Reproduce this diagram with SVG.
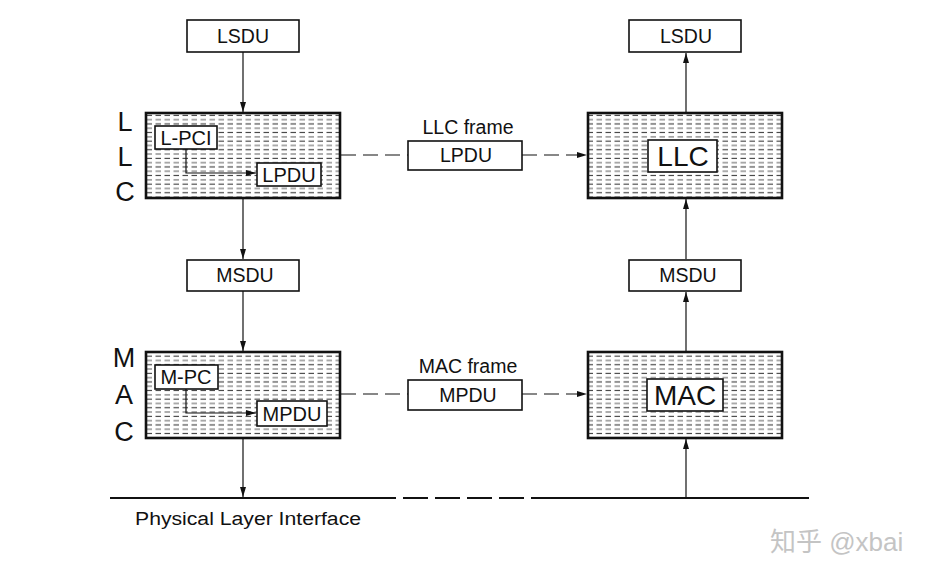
<svg xmlns="http://www.w3.org/2000/svg" width="938" height="580" viewBox="0 0 938 580">
<style>
text{font-family:"Liberation Sans",Arial,sans-serif;fill:#111}
.box{fill:#fff;stroke:#111;stroke-width:1.6}
.layer{fill:url(#hatch);stroke:#111;stroke-width:2.6}
.ln{stroke:#111;stroke-width:1.2;fill:none}
.phy{stroke:#111;stroke-width:2;fill:none}
.dash{stroke:#111;stroke-width:1.2;fill:none;stroke-dasharray:15 7}
.lbl{font-size:19.5px;text-anchor:middle}
.big{font-size:28px;text-anchor:middle}
.side{font-size:27px;text-anchor:middle}
</style>
<defs>
<pattern id="hatch" patternUnits="userSpaceOnUse" x="146" y="113" width="9" height="8.6">
<rect width="9" height="8.6" fill="#fff"/>
<rect x="0.5" y="1.8" width="5.5" height="1.1" fill="#3a3a3a"/>
<rect x="0.5" y="6.1" width="5.5" height="1.1" fill="#6a6a6a"/>
</pattern>
<marker id="arr" viewBox="0 0 10 6" refX="10" refY="3" markerWidth="10" markerHeight="6" markerUnits="userSpaceOnUse" orient="auto">
<path d="M0,0 L10,3 L0,6 Z" fill="#111"/>
</marker>
</defs>
<rect width="938" height="580" fill="#fff"/>

<g id="connectors">
<line class="ln" x1="243" y1="52" x2="243" y2="112" marker-end="url(#arr)"/>
<line class="ln" x1="243" y1="198" x2="243" y2="259" marker-end="url(#arr)"/>
<line class="ln" x1="243" y1="291" x2="243" y2="351" marker-end="url(#arr)"/>
<line class="ln" x1="243" y1="438" x2="243" y2="497" marker-end="url(#arr)"/>
<line class="ln" x1="686" y1="112" x2="686" y2="53" marker-end="url(#arr)"/>
<line class="ln" x1="686" y1="259" x2="686" y2="199" marker-end="url(#arr)"/>
<line class="ln" x1="686" y1="351" x2="686" y2="292" marker-end="url(#arr)"/>
<line class="ln" x1="686" y1="498" x2="686" y2="439" marker-end="url(#arr)"/>
<line class="dash" x1="341" y1="155" x2="408" y2="155"/>
<line class="dash" x1="522" y1="155" x2="587" y2="155" marker-end="url(#arr)"/>
<line class="dash" x1="341" y1="394" x2="408" y2="394"/>
<line class="dash" x1="522" y1="394" x2="587" y2="394" marker-end="url(#arr)"/>
<path class="phy" d="M110,498 H396 M403,498 H428 M435,498 H460 M467,498 H492 M499,498 H524 M531,498 H809"/>
</g>

<g id="lsdu-left"><rect class="box" x="187" y="20" width="112" height="32"/><text class="lbl" x="243" y="43">LSDU</text></g>
<g id="lsdu-right"><rect class="box" x="629" y="20" width="112" height="32"/><text class="lbl" x="686" y="43">LSDU</text></g>

<g id="llc-left">
<rect class="layer" x="146" y="113" width="194" height="85"/>
<rect class="box" x="155" y="126" width="62" height="23"/>
<text x="186" y="145" font-size="20" text-anchor="middle">L-PCI</text>
<rect class="box" x="257" y="163" width="64" height="23"/>
<text x="289" y="182" font-size="20" text-anchor="middle">LPDU</text>
<path class="ln" d="M186,149 V173 H256" marker-end="url(#arr)"/>
</g>
<g id="llc-label"><text class="side" x="125" y="131">L</text><text class="side" x="125" y="166">L</text><text class="side" x="125" y="201">C</text></g>

<g id="llc-frame"><text x="468" y="134" font-size="19.5" text-anchor="middle">LLC frame</text>
<rect class="box" x="408" y="141" width="114" height="29"/><text class="lbl" x="466" y="162">LPDU</text></g>

<g id="llc-right">
<rect class="layer" x="588" y="113" width="194" height="85"/>
<rect class="box" x="648" y="140" width="69" height="32"/>
<text class="big" x="683" y="166">LLC</text>
</g>

<g id="msdu-left"><rect class="box" x="187" y="260" width="112" height="31"/><text class="lbl" x="245" y="282">MSDU</text></g>
<g id="msdu-right"><rect class="box" x="629" y="260" width="112" height="31"/><text class="lbl" x="688" y="282">MSDU</text></g>

<g id="mac-left">
<rect class="layer" x="146" y="352" width="194" height="86"/>
<rect class="box" x="155" y="365" width="63" height="24"/>
<text x="186" y="384" font-size="20" text-anchor="middle">M-PC</text>
<rect class="box" x="257" y="401" width="70" height="25"/>
<text x="292" y="421" font-size="20" text-anchor="middle">MPDU</text>
<path class="ln" d="M186,389 V413 H256" marker-end="url(#arr)"/>
</g>
<g id="mac-label"><text class="side" x="124" y="367">M</text><text class="side" x="124" y="404">A</text><text class="side" x="124" y="441">C</text></g>

<g id="mac-frame"><text x="468" y="373" font-size="19.5" text-anchor="middle">MAC frame</text>
<rect class="box" x="408" y="380" width="114" height="30"/><text class="lbl" x="468" y="402">MPDU</text></g>

<g id="mac-right">
<rect class="layer" x="588" y="352" width="194" height="86"/>
<rect class="box" x="647" y="379" width="76" height="32"/>
<text class="big" x="685" y="405">MAC</text>
</g>

<g id="phy"><text x="135" y="525" font-size="18" textLength="226" lengthAdjust="spacingAndGlyphs">Physical Layer Interface</text></g>
<g id="watermark"><text x="770" y="551" font-size="26" style="font-family:'Liberation Sans','Noto Sans CJK SC',sans-serif;fill:#c4c4c4">知乎 @xbai</text></g>
</svg>
